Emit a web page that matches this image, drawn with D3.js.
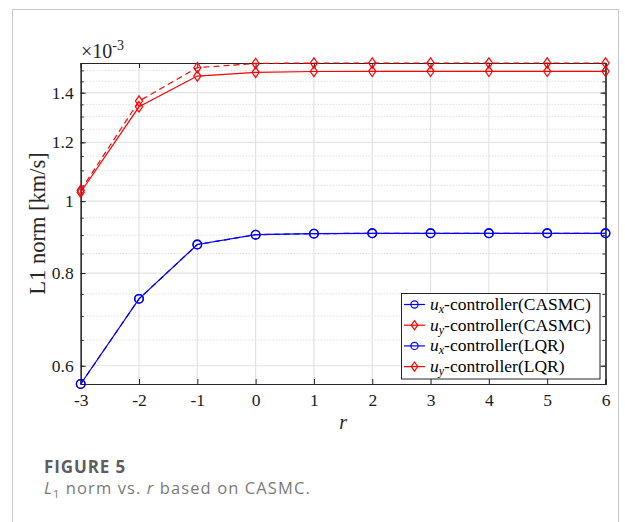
<!DOCTYPE html>
<html>
<head>
<meta charset="utf-8">
<script src="https://cdn.jsdelivr.net/npm/d3@7"></script>
<style>
  html, body { margin: 0; padding: 0; background: #fff; }
  svg { display: block; }
</style>
</head>
<body>
<div id="chart"></div>
<script>
// Control parameter r
const rValues = [-3, -2, -1, 0, 1, 2, 3, 4, 5, 6];
// L1 norm of the control effort, in units of 1e-3 km/s
const uxCASMC = [0.567, 0.7385, 0.874, 0.901, 0.904, 0.905, 0.905, 0.905, 0.905, 0.905];
const uyCASMC = [1.028, 1.340, 1.474, 1.491, 1.495, 1.496, 1.496, 1.496, 1.496, 1.496];
const uxLQR   = [0.567, 0.7385, 0.874, 0.901, 0.904, 0.905, 0.905, 0.905, 0.905, 0.905];
const uyLQR   = [1.034, 1.364, 1.513, 1.533, 1.535, 1.535, 1.535, 1.535, 1.535, 1.535];

const xTicks = [-3, -2, -1, 0, 1, 2, 3, 4, 5, 6];
const xTickLabels = ["-3", "-2", "-1", "0", "1", "2", "3", "4", "5", "6"];
const yMajorTicks = [0.6, 0.8, 1.0, 1.2, 1.4];
const yMinorTicks = [0.6, 0.65, 0.7, 0.75, 0.8, 0.85, 0.9, 0.95, 1.0, 1.05, 1.1, 1.15, 1.2, 1.25, 1.3, 1.35, 1.4, 1.45, 1.5];
const yTickLabels = ["0.6", "0.8", "1", "1.2", "1.4"];

const series = [
  { name: "CASMC", sub: "x", values: uxCASMC, color: "#0000ff", marker: "circle", dash: null },
  { name: "CASMC", sub: "y", values: uyCASMC, color: "#ff0000", marker: "diamond", dash: null },
  { name: "LQR",   sub: "x", values: uxLQR,   color: "#0000ff", marker: "circle", dash: "6,4" },
  { name: "LQR",   sub: "y", values: uyLQR,   color: "#ff0000", marker: "diamond", dash: "6,4" }
];

const W = 625, H = 522;
const plot = { left: 80.7, right: 605.5, top: 63, bottom: 384 };
const serif = "'Liberation Serif', 'Times New Roman', serif";
const axisColor = "#262626";

const svg = d3.select("#chart").append("svg")
  .attr("width", W).attr("height", H);

// panel frame
svg.append("rect")
  .attr("x", 12.5).attr("y", 9.5)
  .attr("width", 606).attr("height", 540)
  .attr("fill", "#fff").attr("stroke", "#c8c8c8").attr("stroke-width", 1);

const x = d3.scaleLinear().domain([-3, 6]).range([plot.left, plot.right]);
const allVals = [].concat(uxCASMC, uyCASMC, uxLQR, uyLQR);
const y = d3.scaleLog().domain(d3.extent(allVals)).range([plot.bottom, plot.top]);

const g = svg.append("g");

// minor grid (dotted)
g.selectAll("line.ymin").data(yMinorTicks.filter(v => !yMajorTicks.some(m => Math.abs(m - v) < 1e-9)))
  .join("line")
  .attr("x1", plot.left).attr("x2", plot.right)
  .attr("y1", d => y(d)).attr("y2", d => y(d))
  .attr("stroke", "#c4c4c4").attr("stroke-width", 0.8).attr("stroke-dasharray", "1,2");

// major grid
g.selectAll("line.ymaj").data(yMajorTicks).join("line")
  .attr("x1", plot.left).attr("x2", plot.right)
  .attr("y1", d => y(d)).attr("y2", d => y(d))
  .attr("stroke", "#e3e3e3").attr("stroke-width", 1.2);
g.selectAll("line.xmaj").data(xTicks).join("line")
  .attr("x1", d => x(d)).attr("x2", d => x(d))
  .attr("y1", plot.top).attr("y2", plot.bottom)
  .attr("stroke", "#e3e3e3").attr("stroke-width", 1.2);

// axes box with inward ticks
const axes = svg.append("g");
const xb = d3.axisBottom(x).tickValues(xTicks).tickSize(-5).tickPadding(10)
  .tickFormat((d, i) => xTickLabels[i]);
const xt = d3.axisTop(x).tickValues(xTicks).tickSize(-5).tickFormat("");
const yl = d3.axisLeft(y).tickValues(yMajorTicks).tickSize(-5).tickPadding(7)
  .tickFormat((d, i) => yTickLabels[i]);
const yr = d3.axisRight(y).tickValues(yMajorTicks).tickSize(-5).tickFormat("");
const ylMinor = d3.axisLeft(y).tickValues(yMinorTicks).tickSize(-3).tickFormat("");
const yrMinor = d3.axisRight(y).tickValues(yMinorTicks).tickSize(-3).tickFormat("");

function styleAxis(sel) {
  sel.selectAll("path").attr("stroke", axisColor).attr("stroke-width", 1.1);
  sel.selectAll("line").attr("stroke", axisColor).attr("stroke-width", 1);
  sel.selectAll("text").attr("fill", "#1a1a1a").style("font-family", serif).style("font-size", "17.5px");
}
axes.append("g").attr("transform", `translate(0,${plot.bottom})`).call(xb).call(styleAxis);
axes.append("g").attr("transform", `translate(0,${plot.top})`).call(xt).call(styleAxis);
axes.append("g").attr("transform", `translate(${plot.left},0)`).call(ylMinor).call(styleAxis);
axes.append("g").attr("transform", `translate(${plot.right},0)`).call(yrMinor).call(styleAxis);
axes.append("g").attr("transform", `translate(${plot.left},0)`).call(yl).call(styleAxis);
axes.append("g").attr("transform", `translate(${plot.right},0)`).call(yr).call(styleAxis);
axes.selectAll("path.domain").attr("fill", "none");

// exponent label
const expo = svg.append("text").attr("x", 81).attr("y", 58)
  .style("font-family", serif).style("font-size", "20px").attr("fill", "#262626");
expo.append("tspan").text("\u00d710");
expo.append("tspan").attr("dy", -8).style("font-size", "14px").text("-3");

// axis titles
svg.append("text")
  .attr("transform", `translate(44.5,${(plot.top + plot.bottom) / 2}) rotate(-90)`)
  .attr("text-anchor", "middle")
  .style("font-family", serif).style("font-size", "22.5px").attr("fill", "#262626")
  .text("L1 norm [km/s]");
svg.append("text").attr("x", x(1.5)).attr("y", 429)
  .attr("text-anchor", "middle")
  .style("font-family", serif).style("font-size", "20px").style("font-style", "italic")
  .attr("fill", "#262626").text("r");

// lines and markers
const line = d3.line().x((d, i) => x(rValues[i])).y(d => y(d));
const diamond = (cx, cy) => `M${cx},${cy - 5.2}L${cx + 3.6},${cy}L${cx},${cy + 5.2}L${cx - 3.6},${cy}Z`;

const sg = svg.append("g");
series.forEach(s => {
  sg.append("path").datum(s.values)
    .attr("d", line).attr("fill", "none")
    .attr("stroke", s.color).attr("stroke-width", 1.2)
    .attr("stroke-dasharray", s.dash);
  if (s.marker === "circle") {
    sg.selectAll(null).data(s.values).join("circle")
      .attr("cx", (d, i) => x(rValues[i])).attr("cy", d => y(d)).attr("r", 4.3)
      .attr("fill", "none").attr("stroke", s.color).attr("stroke-width", 1.3);
  } else {
    sg.selectAll(null).data(s.values).join("path")
      .attr("d", (d, i) => diamond(x(rValues[i]), y(d)))
      .attr("fill", "none").attr("stroke", s.color).attr("stroke-width", 1.2);
  }
});

// legend
const lg = svg.append("g");
const lx = 401.5, ly = 293.5, lw = 198.5, lh = 85.5;
lg.append("rect").attr("x", lx).attr("y", ly).attr("width", lw).attr("height", lh)
  .attr("fill", "#fff").attr("stroke", "#262626").attr("stroke-width", 1);
series.forEach((s, i) => {
  const cy = 304.5 + i * 20.7;
  lg.append("line").attr("x1", 404).attr("x2", 425).attr("y1", cy).attr("y2", cy)
    .attr("stroke", s.color).attr("stroke-width", 1.2);
  if (s.marker === "circle") {
    lg.append("circle").attr("cx", 414.5).attr("cy", cy).attr("r", 3.6)
      .attr("fill", "none").attr("stroke", s.color).attr("stroke-width", 1.2);
  } else {
    lg.append("path").attr("d", `M414.5,${cy - 4.6}L417.7,${cy}L414.5,${cy + 4.6}L411.3,${cy}Z`)
      .attr("fill", "none").attr("stroke", s.color).attr("stroke-width", 1.2);
  }
  const t = lg.append("text").attr("x", 430).attr("y", cy + 5.5)
    .style("font-family", serif).style("font-size", "17.5px").attr("fill", "#000");
  t.append("tspan").style("font-style", "italic").text("u");
  t.append("tspan").style("font-style", "italic").style("font-size", "12px").attr("dy", 3).text(s.sub);
  t.append("tspan").attr("dy", -3).text("-controller(" + s.name + ")");
});

// caption
const sans = "'Open Sans', 'Noto Sans', sans-serif";
svg.append("text").attr("x", 44).attr("y", 473)
  .style("font-family", sans).style("font-size", "17px").style("font-weight", "700")
  .style("letter-spacing", "0.9px")
  .attr("fill", "#5e5e5e").text("FIGURE 5");
const cap = svg.append("text").attr("x", 44).attr("y", 494)
  .style("font-family", sans).style("font-size", "16.5px").style("letter-spacing", "1.1px")
  .attr("fill", "#7a7a7a");
cap.append("tspan").style("font-style", "italic").text("L");
cap.append("tspan").attr("dy", 4).style("font-size", "11px").text("1");
cap.append("tspan").attr("dy", -4).text(" norm vs. ");
cap.append("tspan").style("font-style", "italic").text("r");
cap.append("tspan").text(" based on CASMC.");
</script>
</body>
</html>
